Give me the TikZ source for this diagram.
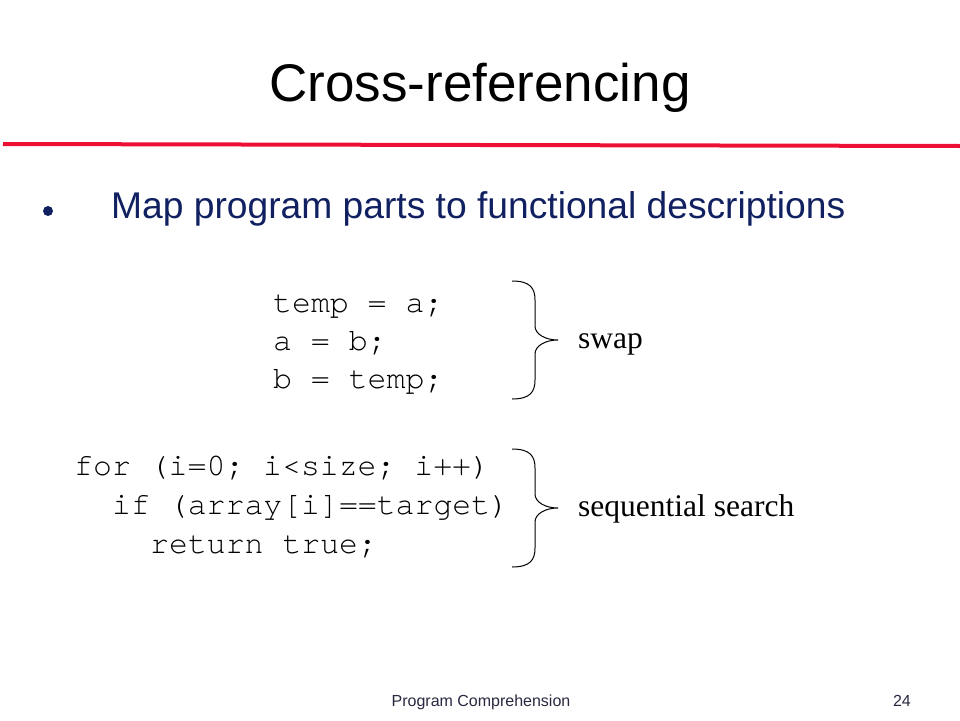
\documentclass[tikz,border=0pt]{standalone}
\usepackage{fontspec}
\usepackage{xcolor}
\setmainfont{Liberation Sans}
\newfontfamily\codefont{TeX Gyre Cursor}
\newfontfamily\labelfont{Liberation Serif}
\definecolor{slidered}{RGB}{238,16,52}
\definecolor{slideblue}{RGB}{16,32,96}
\definecolor{footgray}{RGB}{40,40,64}
\newcommand{\codeline}[4]{\node[codetext] (#3) at (#1,#2) {#4};}
\newcommand{\cbrace}[3]{\draw[braceline,shift={(#1,#2)}] (0,-59) .. controls (18,-59) and (23,-52) .. (23,-40) -- (23,-14) .. controls (23,-6) and (33,0) .. (46,0) coordinate (#3) .. controls (33,0) and (23,6) .. (23,14) -- (23,40) .. controls (23,52) and (18,59) .. (0,59);}

\begin{document}
\begin{tikzpicture}[x=1pt,y=-1pt,
	codetext/.style={anchor=base west,inner sep=0pt,font=\codefont\fontsize{31.5}{38}\selectfont},
	desc/.style={anchor=base west,inner sep=0pt,font=\labelfont\fontsize{31.5}{38}\selectfont},
	braceline/.style={line width=1pt,black}]
	\useasboundingbox (0,0) rectangle (960,720);
	\node[anchor=base,inner sep=0pt,font=\fontsize{53}{64}\selectfont] (title) at (480,101) {Cross-referencing};
	\draw[slidered,line width=4pt] (3,144) -- (960,146);
	\node[circle,fill=slideblue,inner sep=0pt,minimum size=10pt] (dot) at (48,211) {};
	\node[anchor=base west,inner sep=0pt,text=slideblue,font=\fontsize{37.2}{44}\selectfont] (bullet) at (111,218) {Map program parts to functional descriptions};
	\codeline{273}{312}{swap1}{temp = a;} \codeline{273}{350}{swap2}{a = b;} \codeline{273}{388}{swap3}{b = temp;}
	\codeline{74}{475}{loop1}{for (i=0; i<size; i++)} \codeline{112}{514}{loop2}{if (array[i]==target)} \codeline{150}{553}{loop3}{return true;}
	\cbrace{512}{340}{tipA} \cbrace{512}{508}{tipB}
	\node[desc] (swap) at (578,348) {swap};
	\node[desc] (search) at (578,516) {sequential search};
	\node[anchor=base,inner sep=0pt,text=footgray,font=\fontsize{16}{19}\selectfont] (footer) at (481,706) {Program Comprehension};
	\node[anchor=base east,inner sep=0pt,text=footgray,font=\fontsize{16}{19}\selectfont] (page) at (911,706) {24};
\end{tikzpicture}
\end{document}
